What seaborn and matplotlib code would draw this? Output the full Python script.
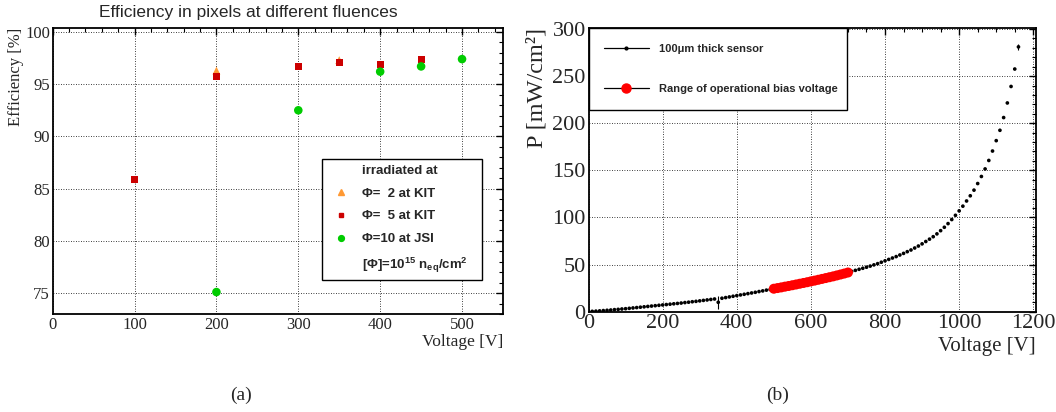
import numpy as np
import matplotlib
matplotlib.use("Agg")
import matplotlib.pyplot as plt
import seaborn as sns
from matplotlib.lines import Line2D
from matplotlib.ticker import MultipleLocator
from matplotlib import font_manager

# (a) efficiency in pixels vs bias voltage, three fluences
v_kit2 = [200, 350]
eff_kit2 = [96.3, 97.3]
v_kit5 = [100, 200, 300, 350, 400, 450]
eff_kit5 = [85.9, 95.7, 96.7, 97.1, 96.9, 97.35]
v_jsi10 = [200, 300, 400, 450, 500]
eff_jsi10 = [75.1, 92.5, 96.2, 96.7, 97.4]

# (b) power density of the 100um sensor vs bias voltage
voltage = [0, 10, 20, 30, 40, 50, 60, 70, 80, 90,
           100, 110, 120, 130, 140, 150, 160, 170, 180, 190,
           200, 210, 220, 230, 240, 250, 260, 270, 280, 290,
           300, 310, 320, 330, 340, 350, 360, 370, 380, 390,
           400, 410, 420, 430, 440, 450, 460, 470, 480, 490,
           500, 510, 520, 530, 540, 550, 560, 570, 580, 590,
           600, 610, 620, 630, 640, 650, 660, 670, 680, 690,
           700, 710, 720, 730, 740, 750, 760, 770, 780, 790,
           800, 810, 820, 830, 840, 850, 860, 870, 880, 890,
           900, 910, 920, 930, 940, 950, 960, 970, 980, 990,
           1000, 1010, 1020, 1030, 1040, 1050, 1060, 1070, 1080, 1090,
           1100, 1110, 1120, 1130, 1140, 1150, 1160]
power = [0.2, 0.4, 0.6, 0.9, 1.2, 1.5, 1.8, 2.2, 2.5, 2.9,
         3.2, 3.6, 4.0, 4.4, 4.8, 5.2, 5.6, 6.0, 6.4, 6.8,
         7.2, 7.6, 8.0, 8.4, 8.8, 9.2, 9.7, 10.1, 10.6, 11.0,
         11.5, 12.0, 12.5, 13.0, 13.5, 10.0, 14.3, 15.0, 15.7, 16.4,
         17.1, 17.8, 18.5, 19.2, 19.9, 20.6, 21.4, 22.1, 22.9, 23.6,
         24.4, 25.1, 25.8, 26.6, 27.3, 28.1, 28.9, 29.7, 30.5, 31.3,
         32.2, 33.0, 33.9, 34.8, 35.7, 36.6, 37.5, 38.5, 39.5, 40.5,
         41.6, 42.8, 43.9, 45.0, 46.1, 47.2, 48.4, 49.7, 51.0, 52.5,
         54.0, 55.5, 57.0, 58.5, 60.2, 61.9, 63.7, 65.5, 67.6, 69.7,
         72.0, 74.5, 77.0, 79.6, 82.6, 86.0, 89.6, 93.5, 97.8, 102.3,
         107.0, 112.0, 117.5, 123.0, 129.0, 136.0, 143.5, 151.5, 160.5, 170.5,
         181.5, 192.5, 206.0, 221.5, 239.0, 257.5, 281.0]
err_voltage = [350, 1160]
err_power = [7.0, 3.5]
op_lo, op_hi = 500, 700

ORANGE = "#ff9933"
RED = "#cc0000"
GREEN = "#00cc00"

sns.set_style("white")
plt.rcParams["font.family"] = ["Liberation Serif", "DejaVu Serif"]
plt.rcParams["mathtext.default"] = "regular"

installed = {f.name for f in font_manager.fontManager.ttflist}
sans = "Liberation Sans"
if "Liberation Sans Narrow" in installed:
    narrow, narrow_size = "Liberation Sans Narrow", 9
else:
    narrow, narrow_size = sans, 8

fig = plt.figure(figsize=(10.56, 4.12), dpi=100)
axA = fig.add_axes([0.0499, 0.2379, 0.4264, 0.6942])
axB = fig.add_axes([0.5573, 0.2434, 0.4233, 0.6881])


def root_style(ax, xmaj, xmin, ymaj, ymin, size):
    ax.xaxis.set_major_locator(MultipleLocator(xmaj))
    ax.xaxis.set_minor_locator(MultipleLocator(xmin))
    ax.yaxis.set_major_locator(MultipleLocator(ymaj))
    ax.yaxis.set_minor_locator(MultipleLocator(ymin))
    ax.tick_params(which="both", direction="in", top=True, right=True,
                   color="black", labelsize=size, pad=2)
    ax.tick_params(which="major", length=5, width=1)
    ax.tick_params(which="minor", length=3, width=0.8)
    ax.grid(True, which="major", color="black", linestyle=(0, (1, 2)), linewidth=0.6)
    ax.set_axisbelow(True)
    for sp in ax.spines.values():
        sp.set_color("black")
        sp.set_linewidth(1.3)
    ax.set_xlabel("")
    ax.set_ylabel("")


# ---- panel (a)
sns.scatterplot(x=v_kit2, y=eff_kit2, marker="^", color=ORANGE, s=32,
                edgecolor="none", ax=axA, zorder=3)
sns.scatterplot(x=v_kit5, y=eff_kit5, marker="s", color=RED, s=24,
                edgecolor="none", ax=axA, zorder=4)
sns.scatterplot(x=v_jsi10, y=eff_jsi10, marker="o", color=GREEN, s=38,
                edgecolor="none", ax=axA, zorder=5)
axA.set_xlim(0, 550)
axA.set_ylim(73.0, 100.38)
root_style(axA, 100, 20, 5, 1, 12)

blank = Line2D([], [], linestyle="none", marker=None)
handlesA = [blank,
            Line2D([], [], linestyle="none", marker="^", color=ORANGE, markersize=4),
            Line2D([], [], linestyle="none", marker="s", color=RED, markersize=3.3),
            Line2D([], [], linestyle="none", marker="o", color=GREEN, markersize=4.2),
            blank]
labelsA = ["irradiated at", "Φ=  2 at KIT", "Φ=  5 at KIT", "Φ=10 at JSI",
           r"[Φ]=10$^{15}$ n$_{eq}$/cm$^{2}$"]
legA = axA.legend(handlesA, labelsA, loc="upper left",
                  bbox_to_anchor=(0.598, 0.147, 0.355, 0.395), mode="expand",
                  borderaxespad=0, prop={"family": sans, "weight": "bold", "size": 9.5},
                  handlelength=2.0, handletextpad=0.6, labelspacing=0.8, borderpad=0.42,
                  fancybox=False, framealpha=1, edgecolor="black")
legA.get_frame().set_linewidth(1.0)

fig.text(248 / 1056, 1 - 13 / 412, "Efficiency in pixels at different fluences",
         family=sans, fontsize=12.5, ha="center", va="center")
fig.text(16 / 1056, 1 - 28 / 412, "Efficiency [%]", rotation=90, ha="center",
         va="top", fontsize=12)
fig.text(503 / 1056, 1 - 341.7 / 412, "Voltage [V]", ha="right", va="center",
         fontsize=12.5)

# ---- panel (b)
v_arr = np.array(voltage)
p_arr = np.array(power)
in_range = (v_arr >= op_lo) & (v_arr <= op_hi)
sns.scatterplot(x=v_arr, y=p_arr, color="black", s=7, edgecolor="none",
                ax=axB, zorder=3)
sns.scatterplot(x=v_arr[in_range], y=p_arr[in_range], color="red", s=52,
                edgecolor="none", ax=axB, zorder=4)
err_p = [p_arr[v_arr == v][0] for v in err_voltage]
axB.errorbar(err_voltage, err_p, yerr=err_power, fmt="none", ecolor="black",
             elinewidth=0.8, capsize=0, zorder=3)
axB.set_xlim(0, 1206)
axB.set_ylim(0, 300.8)
root_style(axB, 200, 50, 50, 10, 16)

handlesB = [Line2D([], [], color="black", lw=0.9, marker="o", markersize=2),
            Line2D([], [], color="black", lw=0.9, marker="o", markersize=6.5,
                   markerfacecolor="red", markeredgecolor="red")]
labelsB = ["100μm thick sensor", "Range of operational bias voltage"]
legB = axB.legend(handlesB, labelsB, loc="upper left", bbox_to_anchor=(0, 0, 0.5777, 1),
                  mode="expand", borderaxespad=0,
                  prop={"family": narrow, "weight": "bold", "size": narrow_size},
                  handlelength=4.0, handletextpad=0.9, labelspacing=2.75, borderpad=1.4,
                  fancybox=False, framealpha=1, edgecolor="black")
legB.get_frame().set_linewidth(1.0)

fig.text(537 / 1056, 1 - 28 / 412, "P [mW/cm²]", rotation=90, ha="center",
         va="top", fontsize=17.5)
fig.text(1036 / 1056, 1 - 346.7 / 412, "Voltage [V]", ha="right", va="center",
         fontsize=15)

fig.text(241 / 1056, 1 - 395 / 412, "(a)", ha="center", va="center", fontsize=14)
fig.text(778 / 1056, 1 - 395 / 412, "(b)", ha="center", va="center", fontsize=14)

fig.savefig("out.png", dpi=100)
